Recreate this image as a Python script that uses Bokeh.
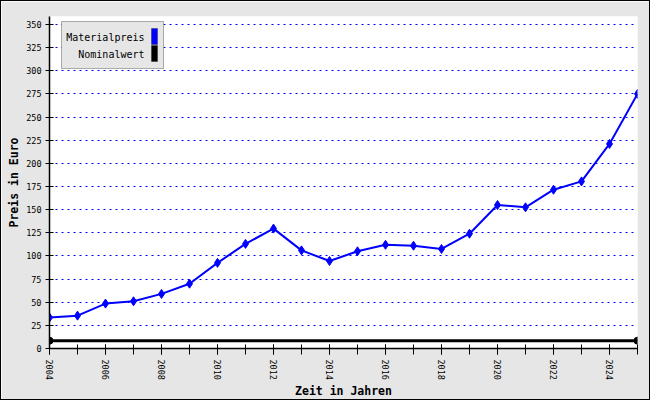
from bokeh.plotting import figure
from bokeh.models import Range1d, FixedTicker, Label, BoxAnnotation
from bokeh.embed import file_html
from bokeh.resources import INLINE

# ---- data ----
years = list(range(2004, 2026))
materialpreis = [33.5, 35.5, 48.5, 51, 59, 70, 92.5, 113, 129.5, 106, 94.5,
                 105, 112, 111, 107.5, 124, 155, 152.5, 171.5, 180.5, 221, 275]
nominal_years = [2004, 2025]
nominalwert = [8.5, 8.5]
y_ticks = list(range(0, 351, 25))
x_ticks = list(range(2004, 2025, 2))
series_names = ["Materialpreis", "Nominalwert"]
series_colors = ["#0000ff", "#000000"]

X0, X1 = 2004, 2025
Y0, Y1 = 0, 358.6
FW, FH = 588, 332

MONO = "DejaVu Sans Mono"
BG = "#e6e6e6"

p = figure(width=650, height=400, output_backend="svg", toolbar_location=None,
           x_range=Range1d(X0, X1), y_range=Range1d(Y0, Y1),
           min_border_left=48, min_border_right=14, min_border_top=15, min_border_bottom=53)
p.styles = {"border": "1px solid black", "box-sizing": "border-box"}
p.background_fill_color = "white"
p.border_fill_color = BG
p.outline_line_color = None

# grid
p.xgrid.grid_line_color = None
p.ygrid.ticker = FixedTicker(ticks=y_ticks[1:])
p.ygrid.grid_line_color = "#0000ff"
p.ygrid.grid_line_dash = "2 4"
p.ygrid.grid_line_width = 1

# axes
p.xaxis.ticker = FixedTicker(ticks=x_ticks, minor_ticks=years)
p.yaxis.ticker = FixedTicker(ticks=y_ticks)
for ax in (p.xaxis[0], p.yaxis[0]):
    ax.axis_line_color = "black"
    ax.axis_line_width = 1.5
    ax.major_tick_line_color = "black"
    ax.minor_tick_line_color = "black"
    ax.major_label_text_font = MONO
    ax.major_label_text_font_size = "8.5px"
    ax.major_label_text_color = "black"
    ax.axis_label_text_font = MONO
    ax.axis_label_text_font_style = "bold"
    ax.axis_label_text_font_size = "11.5px"
    ax.axis_label_text_color = "black"

p.xaxis.major_tick_in = 4
p.xaxis.major_tick_out = 6
p.xaxis.minor_tick_in = 4
p.xaxis.minor_tick_out = 6
p.xaxis.major_label_orientation = "vertical"
p.xaxis.major_label_standoff = 5
p.xaxis.axis_label = "Zeit in Jahren"
p.xaxis.axis_label_standoff = 1

p.yaxis.major_tick_in = 4
p.yaxis.major_tick_out = 4
p.yaxis.minor_tick_line_color = None
p.yaxis.major_label_standoff = 4
p.yaxis.axis_label = "Preis in Euro"
p.yaxis.axis_label_standoff = 2

# series
p.line(years, materialpreis, line_color=series_colors[0], line_width=2)
p.scatter(years, materialpreis, marker="diamond", size=9,
          fill_color=series_colors[0], line_color=series_colors[0])
p.line(nominal_years, nominalwert, line_color=series_colors[1], line_width=3)
p.scatter(nominal_years, nominalwert, marker="circle", size=7,
          fill_color=series_colors[1], line_color=series_colors[1])

# custom legend (label left of swatch), positioned in frame pixels
def dx(px):
    return X0 + px * (X1 - X0) / FW

def dy(px):
    return Y1 - px * (Y1 - Y0) / FH

p.add_layout(BoxAnnotation(left=dx(12), right=dx(114), top=dy(5), bottom=dy(52),
                           fill_color=BG, fill_alpha=1, line_color="black", line_width=1,
                           level="overlay"))
for i, (name, col) in enumerate(zip(series_names, series_colors)):
    top = 12 + i * 17
    p.add_layout(BoxAnnotation(left=dx(102), right=dx(108), top=dy(top), bottom=dy(top + 16),
                               fill_color=col, fill_alpha=1, line_color="black", line_width=1,
                               level="overlay"))
    p.add_layout(Label(x=dx(95), y=dy(top + 9), text=name, text_align="right",
                       text_baseline="middle", text_font=MONO, text_font_size="10px",
                       text_color="black", level="overlay"))

open("out.html", "w").write(file_html(p, INLINE))
